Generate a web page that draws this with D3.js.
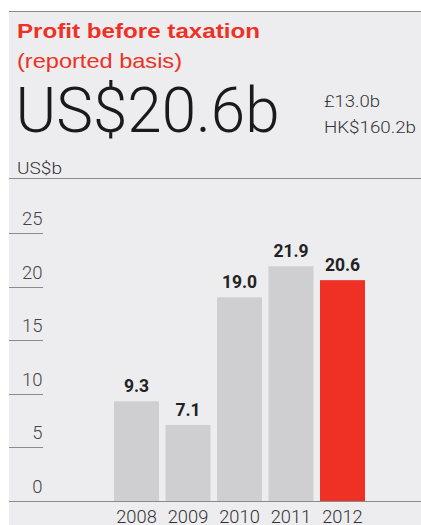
<!DOCTYPE html>
<html><head><meta charset="utf-8">
<script src="https://cdn.jsdelivr.net/npm/d3@7/dist/d3.min.js"></script>
<style>
html,body{margin:0;padding:0;background:#fff;}
svg{display:block;font-family:Roboto,"Liberation Sans",sans-serif;}
</style></head><body>
<svg id="c" width="421" height="525"></svg>
<script>
const years = ["2008","2009","2010","2011","2012"];
const values = [9.3, 7.1, 19.0, 21.9, 20.6];
const yTicks = [0, 5, 10, 15, 20, 25];
const title = "Profit before taxation";
const subtitle = "(reported basis)";
const headline = "US$20.6b";
const alt1 = "£13.0b";
const alt2 = "HK$160.2b";
const unit = "US$b";

const svg = d3.select("#c");
const W = 421, H = 525;
const left = 9;

svg.append("rect").attr("x", left).attr("y", 11).attr("width", W - left).attr("height", H - 11).attr("fill", "#ededf0");
svg.append("line").attr("x1", left).attr("x2", W).attr("y1", 11.5).attr("y2", 11.5).attr("stroke", "#8a8a8a").attr("stroke-width", 1);
svg.append("line").attr("x1", left).attr("x2", W).attr("y1", 178.5).attr("y2", 178.5).attr("stroke", "#8a8a8a").attr("stroke-width", 1);

function txt(s, x0, y0, size, weight, fill, len, family) {
  const t = svg.append("text").attr("x", x0).attr("y", y0).attr("fill", fill)
    .attr("font-size", size).attr("font-weight", weight).text(s);
  if (family) t.attr("font-family", family);
  if (len) t.attr("textLength", len).attr("lengthAdjust", "spacingAndGlyphs");
  return t;
}
txt(title, 17, 38, 19.8, 700, "#ee3124", 243, "'Liberation Sans', Arial, sans-serif");
txt(subtitle, 17, 67.5, 19.8, 400, "#ee3124", 165, "'Liberation Sans', Arial, sans-serif");
txt(headline, 15.5, 132, 63, 300, "#1a1a1a", 264);
txt(alt1, 324, 107, 16.8, 300, "#333", 56);
txt(alt2, 324, 133, 16.8, 300, "#333", 92);
txt(unit, 17, 174, 16.8, 300, "#333", 45);

const y = d3.scaleLinear().domain([0, 25]).range([501, 233]);
const x = d3.scaleBand().domain(years).range([114, 365]).paddingInner(0.126).paddingOuter(0);

const tg = svg.append("g");
yTicks.forEach(t => {
  if (t !== 0) {
    tg.append("line").attr("x1", left).attr("x2", 43).attr("y1", Math.round(y(t)) + 0.5).attr("y2", Math.round(y(t)) + 0.5)
      .attr("stroke", "#8a8a8a").attr("stroke-width", 1);
  }
  tg.append("text").attr("x", 42.5).attr("y", y(t) - 8).attr("text-anchor", "end")
    .attr("fill", "#444").attr("font-size", 18.5).attr("font-weight", 300).text(t);
});

svg.selectAll("rect.bar").data(years).enter().append("rect").attr("class", "bar")
  .attr("x", d => x(d)).attr("width", x.bandwidth())
  .attr("y", (d, i) => y(values[i])).attr("height", (d, i) => y(0) - y(values[i]))
  .attr("fill", (d, i) => i === years.length - 1 ? "#ee3124" : "#cfcfd1");

svg.selectAll("text.val").data(years).enter().append("text").attr("class", "val")
  .attr("x", d => x(d) + x.bandwidth() / 2).attr("y", (d, i) => y(values[i]) - 9)
  .attr("text-anchor", "middle").attr("font-size", 17.5).attr("font-weight", 700).attr("fill", "#222")
  .text((d, i) => values[i].toFixed(1));

svg.append("line").attr("x1", left).attr("x2", W).attr("y1", 501.5).attr("y2", 501.5).attr("stroke", "#8a8a8a").attr("stroke-width", 1);

svg.selectAll("text.yr").data(years).enter().append("text").attr("class", "yr")
  .attr("x", d => x(d) + x.bandwidth() / 2).attr("y", 523)
  .attr("text-anchor", "middle").attr("font-size", 18.3).attr("font-weight", 300).attr("fill", "#333")
  .text(d => d);
</script>
</body></html>
